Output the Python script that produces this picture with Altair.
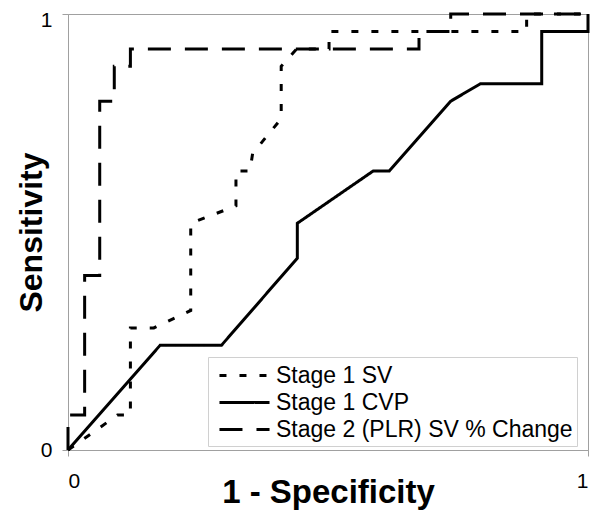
import altair as alt
import pandas as pd

series_names = ["Stage 1 SV", "Stage 1 CVP", "Stage 2 (PLR) SV % Change"]

sv_x = [0, 0.095, 0.12, 0.12, 0.165, 0.236, 0.236, 0.323, 0.323, 0.35, 0.355, 0.41, 0.41, 0.44, 0.502, 0.502, 0.882, 0.882, 1.0]
sv_y = [0, 0.08, 0.08, 0.28, 0.28, 0.32, 0.52, 0.56, 0.64, 0.64, 0.68, 0.76, 0.88, 0.92, 0.92, 0.96, 0.96, 1.0, 1.0]

cvp_x = [0, 0.177, 0.295, 0.441, 0.441, 0.587, 0.618, 0.736, 0.793, 0.911, 0.911, 1.0, 1.0]
cvp_y = [0, 0.24, 0.24, 0.44, 0.52, 0.64, 0.64, 0.80, 0.84, 0.84, 0.96, 0.96, 1.0]

plr_x = [0, 0, 0.032, 0.032, 0.061, 0.061, 0.089, 0.089, 0.12, 0.12, 0.675, 0.675, 0.736, 0.736, 1.0]
plr_y = [0, 0.08, 0.08, 0.40, 0.40, 0.80, 0.80, 0.88, 0.88, 0.92, 0.92, 0.96, 0.96, 1.0, 1.0]

rows = []
for name, xs, ys in zip(series_names, [sv_x, cvp_x, plr_x], [sv_y, cvp_y, plr_y]):
    for i, (xv, yv) in enumerate(zip(xs, ys)):
        rows.append({"series": name, "fpr": xv, "tpr": yv, "ord": i})
df = pd.DataFrame(rows)

FONT = "Liberation Sans"

chart = alt.Chart(df).mark_line(color="black", strokeWidth=3).encode(
    x=alt.X("fpr:Q",
            scale=alt.Scale(domain=[0, 1], nice=False),
            axis=alt.Axis(values=[0, 1], format="d", grid=False, title="1 - Specificity",
                          titleFontSize=33, titleFont=FONT, titleFontWeight="bold", titleColor="black",
                          titleY=52, titleBaseline="alphabetic",
                          labelFont=FONT, labelFontSize=21, labelColor="black", labelPadding=14,
                          tickSize=6, tickColor="#a0a0a0", domainColor="#a0a0a0")),
    y=alt.Y("tpr:Q",
            scale=alt.Scale(domain=[0, 1], nice=False),
            axis=alt.Axis(values=[0, 1], format="d", grid=False, title="Sensitivity",
                          titleFontSize=32, titleFont=FONT, titleFontWeight="bold", titleColor="black",
                          titleX=-27, titleBaseline="alphabetic",
                          labelFont=FONT, labelFontSize=21, labelColor="black", labelPadding=10,
                          labelOffset={"condition": {"test": "datum.value == 1", "value": 6}, "value": 0},
                          tickSize=6, tickColor="#a0a0a0", domainColor="#a0a0a0")),
    strokeDash=alt.StrokeDash("series:N",
                              scale=alt.Scale(domain=series_names, range=[[7, 13], [1, 0], [23, 14]]),
                              legend=alt.Legend(title=None, orient="none", legendX=140, legendY=343,
                                                symbolType="M-0.54,0L3.31,0", symbolSize=676,
                                                symbolStrokeWidth=3, symbolStrokeColor="black",
                                                labelFont=FONT, labelFontSize=23, labelColor="black",
                                                labelOffset=35, labelLimit=0, rowPadding=0,
                                                padding=4, strokeColor="#d0d0d0", fillColor="white")),
    order="ord:Q",
).properties(
    width=520, height=436,
    autosize=alt.AutoSizeParams(type="none"),
    padding={"left": 60, "top": 6, "right": 4, "bottom": 60},
).configure_view(stroke="#a0a0a0", strokeWidth=1)

chart.save("out.html", embed_options={"renderer": "svg", "actions": False})
